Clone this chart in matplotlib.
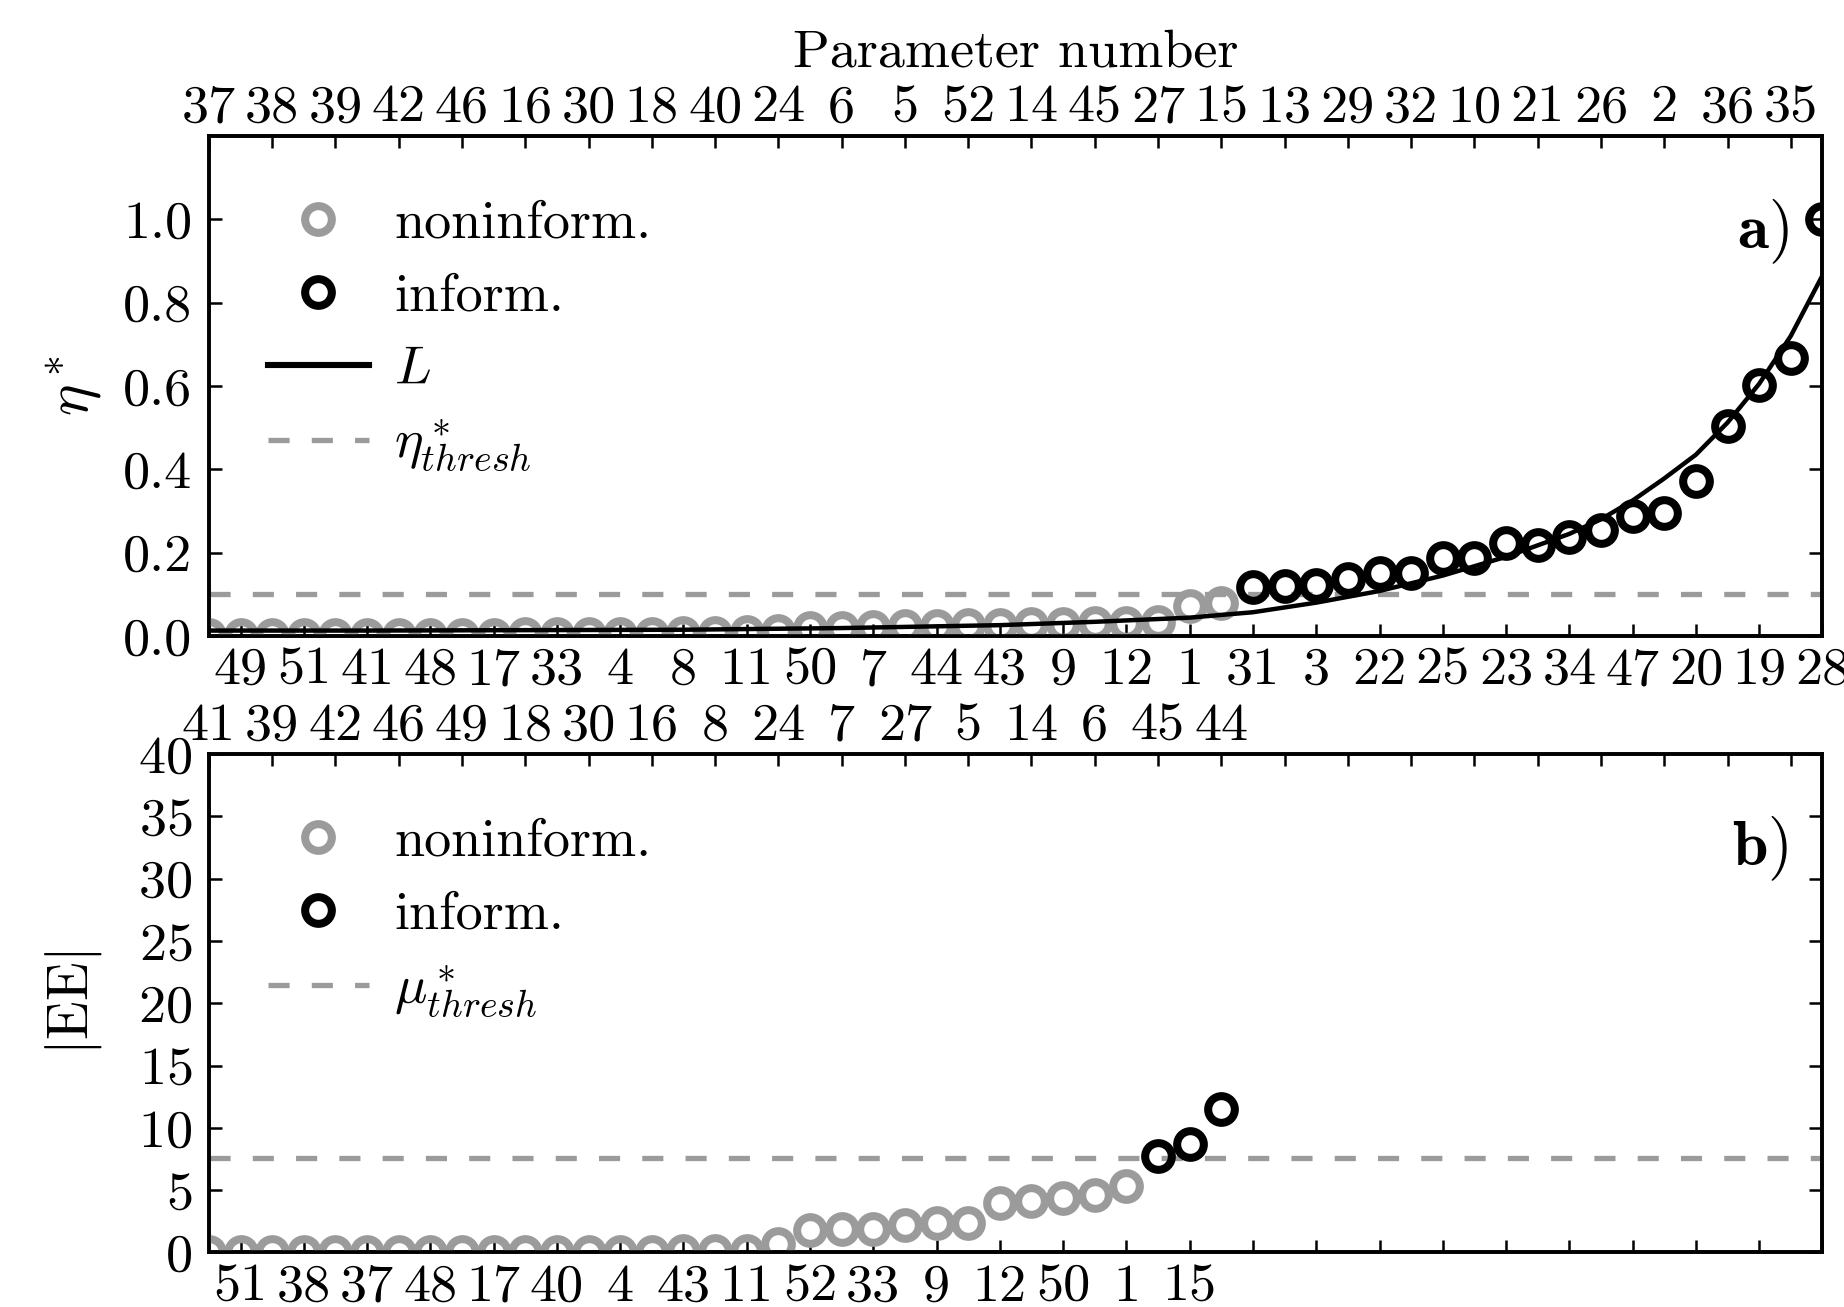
import matplotlib

matplotlib.use("Agg")
import matplotlib.pyplot as plt
import numpy as np
from matplotlib.lines import Line2D
from matplotlib.ticker import FormatStrFormatter

plt.rcParams["font.family"] = "cmr10"
plt.rcParams["mathtext.fontset"] = "cm"
plt.rcParams["axes.unicode_minus"] = False
plt.rcParams["axes.formatter.use_mathtext"] = True

# panel a) parameters sorted by eta*
eta_params = [37, 49, 38, 51, 39, 41, 42, 48, 46, 17, 16, 33, 30, 4, 18, 8, 40,
              11, 24, 50, 6, 7, 5, 44, 52, 43, 14, 9, 45, 12, 27, 1, 15, 31, 13,
              3, 29, 22, 32, 25, 10, 23, 21, 34, 26, 47, 2, 20, 36, 19, 35, 28]
eta_vals = [0.003, 0.003, 0.003, 0.003, 0.003, 0.003, 0.003, 0.003, 0.003, 0.003,
            0.004, 0.004, 0.005, 0.005, 0.005, 0.006, 0.007, 0.009, 0.013, 0.018,
            0.020, 0.022, 0.024, 0.025, 0.026, 0.027, 0.028, 0.029, 0.030, 0.031,
            0.034, 0.072, 0.078, 0.118, 0.119, 0.123, 0.136, 0.151, 0.152, 0.187,
            0.188, 0.223, 0.219, 0.238, 0.255, 0.287, 0.296, 0.371, 0.503, 0.603,
            0.667, 1.0]
eta_thresh = 0.1
L_pos = [0, 5, 10, 15, 20, 25, 28, 31, 33, 35, 37, 39, 41, 43, 44, 45, 46, 47,
         48, 49, 50, 51]
L_vals = [0.013, 0.013, 0.014, 0.015, 0.019, 0.026, 0.034, 0.044, 0.057, 0.080,
          0.108, 0.145, 0.190, 0.245, 0.280, 0.325, 0.378, 0.435, 0.512, 0.605,
          0.720, 0.865]

# panel b) parameters sorted by |EE|
ee_params = [41, 51, 39, 38, 42, 37, 46, 48, 49, 17, 18, 40, 30, 4, 16, 43, 8,
             11, 24, 52, 7, 33, 27, 9, 5, 12, 14, 50, 6, 1, 45, 15, 44]
ee_vals = [0.08, 0.08, 0.08, 0.08, 0.08, 0.08, 0.08, 0.08, 0.08, 0.08, 0.08,
           0.08, 0.08, 0.08, 0.08, 0.1, 0.1, 0.15, 0.72, 1.78, 1.86, 1.86, 2.18,
           2.34, 2.36, 3.95, 4.1, 4.4, 4.6, 5.3, 7.75, 8.74, 11.55]
mu_thresh = 7.6

GRAY = "#9b9b9b"
FS = 19.5
MS = 9.6
MEW = 2.9
NPOS = 52


def style_panel(ax, order):
    ax.set_xlim(0, NPOS - 1)
    odd = np.arange(1, NPOS, 2)
    even = np.arange(0, NPOS, 2)
    ax.set_xticks(odd)
    ax.set_xticklabels([str(order[i]) if i < len(order) else "" for i in odd])
    ax.tick_params(axis="x", direction="in", length=4.3, width=0.9,
                   labelsize=FS, pad=4)
    ax.tick_params(axis="y", direction="in", length=4.8, width=0.9,
                   labelsize=FS, pad=6, right=True)
    for sp in ax.spines.values():
        sp.set_linewidth(1.3)
    top = ax.twiny()
    top.set_xlim(0, NPOS - 1)
    top.set_xticks(even)
    top.set_xticklabels([str(order[i]) if i < len(order) else "" for i in even])
    top.tick_params(axis="x", direction="in", length=4.3, width=0.9,
                    labelsize=FS, pad=1.6)
    for sp in top.spines.values():
        sp.set_linewidth(1.3)
    return top


def draw_points(ax, vals, thresh):
    x = np.arange(len(vals))
    y = np.asarray(vals)
    inf = y > thresh
    ax.plot(x[~inf], y[~inf], "o", mfc="none", mec=GRAY, mew=MEW, ms=MS, zorder=3)
    ax.plot(x[inf], y[inf], "o", mfc="none", mec="k", mew=MEW, ms=MS, zorder=3)
    ax.axhline(thresh, color=GRAY, lw=1.9, dashes=(4, 4.2), zorder=1)


fig = plt.figure(figsize=(9.22, 6.535), dpi=200)
ax1 = fig.add_axes([0.1133, 0.5134, 0.875, 0.3826])
ax2 = fig.add_axes([0.1133, 0.0417, 0.875, 0.3814])

# panel a)
top1 = style_panel(ax1, eta_params)
draw_points(ax1, eta_vals, eta_thresh)
ax1.plot(L_pos, L_vals, color="k", lw=1.6, zorder=4)
ax1.set_ylim(0, 1.2)
ax1.set_yticks(np.arange(0, 1.01, 0.2))
ax1.yaxis.set_major_formatter(FormatStrFormatter("%.1f"))
ax1.set_ylabel(r"$\eta^*$", fontsize=FS + 2)
ax1.yaxis.set_label_coords(-0.065, 0.5)
top1.set_xlabel("Parameter number", fontsize=FS, labelpad=6.5)
ax1.text(0.979, 0.809, r"$\mathbf{a}\mathrm{)}$", transform=ax1.transAxes,
         ha="right", va="center", fontsize=FS + 3.5)

h_non = Line2D([], [], ls="none", marker="o", mfc="none", mec=GRAY, mew=MEW, ms=MS)
h_inf = Line2D([], [], ls="none", marker="o", mfc="none", mec="k", mew=MEW, ms=MS)
h_L = Line2D([], [], color="k", lw=2.2)
h_thr = Line2D([], [], color=GRAY, lw=1.9, dashes=(4, 4.2))
ax1.legend([h_non, h_inf, h_L, h_thr],
           ["noninform.", "inform.", r"$L$", r"$\eta^*_{thresh}$"],
           loc="upper left", bbox_to_anchor=(0.0366, 0.872), frameon=False,
           fontsize=FS, numpoints=1, handlelength=1.86, handletextpad=0.47,
           labelspacing=0.46, borderpad=0, borderaxespad=0)

# panel b)
style_panel(ax2, ee_params)
draw_points(ax2, ee_vals, mu_thresh)
ax2.set_ylim(0, 40)
ax2.set_yticks(np.arange(0, 41, 5))
ax2.set_ylabel(r"$|\mathrm{EE}|$", fontsize=FS + 1)
ax2.yaxis.set_label_coords(-0.065, 0.5)
ax2.text(0.979, 0.809, r"$\mathbf{b}\mathrm{)}$", transform=ax2.transAxes,
         ha="right", va="center", fontsize=FS + 3.5)
h_mu = Line2D([], [], color=GRAY, lw=1.9, dashes=(4, 4.2))
ax2.legend([h_non, h_inf, h_mu],
           ["noninform.", "inform.", r"$\mu^*_{thresh}$"],
           loc="upper left", bbox_to_anchor=(0.0366, 0.872), frameon=False,
           fontsize=FS, numpoints=1, handlelength=1.86, handletextpad=0.47,
           labelspacing=0.46, borderpad=0, borderaxespad=0)

fig.savefig("out.png", dpi=200)
